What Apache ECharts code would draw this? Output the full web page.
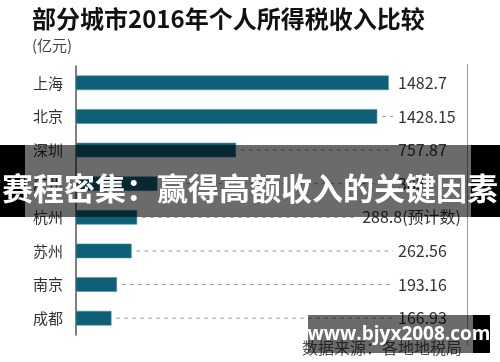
<!DOCTYPE html>
<html>
<head>
<meta charset="utf-8">
<script src="https://cdn.jsdelivr.net/npm/echarts@6/dist/echarts.min.js"></script>
<style>
html,body{margin:0;padding:0;background:#fff;}
#chart{width:500px;height:362px;}
</style>
</head>
<body>
<div id="chart"></div>
<script>
const categories = ['上海','北京','深圳','广州','杭州','苏州','南京','成都'];
const values = [1482.7, 1428.15, 757.87, 385, 288.8, 262.56, 193.16, 166.93];
const valueLabels = ['1482.7','1428.15','757.87','385','288.8(预计数)','262.56','193.16','166.93'];
const titleText = '部分城市2016年个人所得税收入比较';
const unitText = '(亿元)';
const sourceText = '数据来源：各地地税局';
const bannerText = '赛程密集：赢得高额收入的关键因素';
const watermarkText = 'www.bjyx2008.com';

const FONT = '"Noto Sans CJK SC","Noto Sans",sans-serif';
const LABEL_X = 398, LABEL_RIGHT = 461;
const measure = (function(){
  const ctx = document.createElement('canvas').getContext('2d');
  ctx.font = '16px ' + FONT;
  return s => ctx.measureText(s).width;
})();

const chart = echarts.init(document.getElementById('chart'), null, {renderer:'canvas'});

function renderItem(params, api) {
  const v = api.value(0);
  const idx = api.value(1);
  const p0 = api.coord([0, idx]);
  const p1 = api.coord([v, idx]);
  const h = 14;
  const label = valueLabels[params.dataIndex];
  const w = measure(label);
  const tx = Math.min(LABEL_X, LABEL_RIGHT - w);
  const children = [{
    type: 'rect',
    shape: {x: p0[0], y: p0[1] - h/2, width: p1[0] - p0[0], height: h},
    style: {fill: '#0f5f76', stroke: '#4f93a5', lineWidth: 0.6}
  }];
  const ls = p1[0] + 5, le = tx - 5;
  if (le - ls > 3) {
    children.push({
      type: 'line',
      shape: {x1: ls, y1: p1[1], x2: le, y2: p1[1]},
      style: {stroke: '#9a9a9a', lineWidth: 1, lineDash: [4, 4]}
    });
  }
  children.push({
    type: 'text',
    x: tx, y: p1[1],
    style: {text: label, fill: '#333', font: '16px ' + FONT, textAlign: 'left', textVerticalAlign: 'middle'}
  });
  return {type: 'group', children: children};
}

chart.setOption({
  animation: false,
  backgroundColor: '#fff',
  grid: {left: 76, right: 32, top: 66, bottom: 27},
  xAxis: {type: 'value', min: 0, max: 1860, show: false},
  yAxis: {
    type: 'category', data: categories, inverse: true,
    axisLine: {show: true, lineStyle: {color: '#555', width: 1.5}},
    axisTick: {show: false},
    axisLabel: {color: '#333', fontSize: 15, fontFamily: FONT, margin: 13}
  },
  series: [{
    type: 'custom',
    renderItem: renderItem,
    encode: {x: 0, y: 1},
    data: values.map((v, i) => [v, i])
  }],
  graphic: [
    {type: 'text', left: 32, top: 7, z: 10,
     style: {text: titleText, font: 'bold 24px ' + FONT, fill: '#111'}},
    {type: 'text', left: 32, top: 38, z: 10,
     style: {text: unitText, font: '15px ' + FONT, fill: '#444'}},
    {type: 'line', z: 5, shape: {x1: 467.5, y1: 64, x2: 467.5, y2: 345},
     style: {stroke: '#999', lineWidth: 1}},
    {type: 'text', left: 302, top: 340, z: 10,
     style: {text: sourceText, font: '16px ' + FONT, fill: '#555'}},
    // banner overlay
    {type: 'rect', z: 20, shape: {x: 0, y: 145, width: 500, height: 72},
     style: {fill: 'rgba(0,0,0,0.58)'}},
    {type: 'rect', z: 21, shape: {x: 0, y: 145, width: 25, height: 72}, style: {fill: '#000'}},
    {type: 'rect', z: 21, shape: {x: 471, y: 145, width: 29, height: 72}, style: {fill: '#000'}},
    {type: 'text', z: 22, x: 250, y: 188,
     style: {text: bannerText, font: 'bold 31px ' + FONT, fill: '#fff', textAlign: 'center', textVerticalAlign: 'middle'}},
    // watermark
    {type: 'rect', z: 20, shape: {x: 308, y: 315, width: 165, height: 38}, style: {fill: 'rgba(0,0,0,0.58)'}},
    {type: 'rect', z: 21, shape: {x: 473, y: 315, width: 17, height: 38}, style: {fill: '#000'}},
    {type: 'text', z: 22, x: 399, y: 335,
     style: {text: watermarkText, font: 'bold 19px "Open Sans","DejaVu Sans",sans-serif', fill: '#fff', textAlign: 'center', textVerticalAlign: 'middle'}}
  ]
});
</script>
</body>
</html>
